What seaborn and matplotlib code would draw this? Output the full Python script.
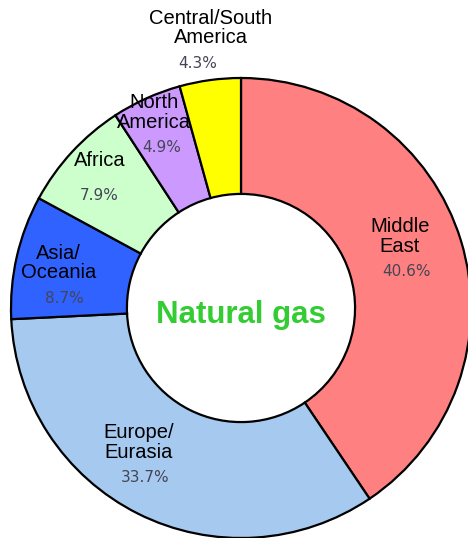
import matplotlib
matplotlib.use("Agg")
import matplotlib.pyplot as plt
import numpy as np
import seaborn as sns

# -------------------------------------------------------- #
# data: share of proven natural gas reserves by region (%)
regions = ["Middle\nEast", "Europe/\nEurasia", "Asia/\nOceania", "Africa",
           "North\nAmerica", "Central/South\nAmerica"]
shares = [40.6, 33.7, 8.7, 7.9, 4.9, 4.3]
colors = ["#FF8080", "#A6C9EF", "#2F62FF", "#CCFFCC", "#CC99FF", "#FFFF00"]
center_title = "Natural gas"

# label layout: (angle nudge in deg, radius as fraction of pie radius)
label_layout = [(7.2, 0.757), (-10.6, 0.735), (-1.0, 0.816),
                (-3.4, 0.888), (-0.3, 0.93), (-1.6, 1.224)]
pct_shift_px = [7, 6, 6, 0, 8, -13]

# -------------------------------------------------------- #
sns.set_theme(style="white")
plt.rcParams["font.family"] = ["Liberation Sans", "DejaVu Sans"]

fig = plt.figure(figsize=(4.68, 5.38), dpi=100)
ax = fig.add_axes([0, 0, 1, 1])

wedges, _ = ax.pie(
    shares,
    colors=colors,
    startangle=90,
    counterclock=False,
    radius=1.0,
    wedgeprops=dict(width=0.504, edgecolor="black", linewidth=1.6),
)

# centre of pie sits at pixel (241, 308), pie radius 230 px
R = 230.0
ax.set_xlim(-241 / R, (468 - 241) / R)
ax.set_ylim(-(538 - 308) / R, 308 / R)
ax.set_aspect("equal")
ax.axis("off")

for w, name, val, (nudge, r), sh in zip(wedges, regions, shares, label_layout, pct_shift_px):
    mid = np.radians((w.theta1 + w.theta2) / 2 + nudge)
    x, y = r * np.cos(mid), r * np.sin(mid)
    ax.text(x, y, name, ha="center", va="center", fontsize=14.5,
            color="black", linespacing=1.02)
    ax.annotate(f"{val}%", xy=(x, y), xytext=(sh * 0.72, -35 * 0.72),
                textcoords="offset points", ha="center", va="center",
                fontsize=11, color="#454555", family="DejaVu Sans")

ax.text(0, -15 / R, center_title, ha="center", va="baseline", fontsize=22.5,
        fontweight="bold", color="#33CC33")

plt.savefig("out.png", dpi=100)
